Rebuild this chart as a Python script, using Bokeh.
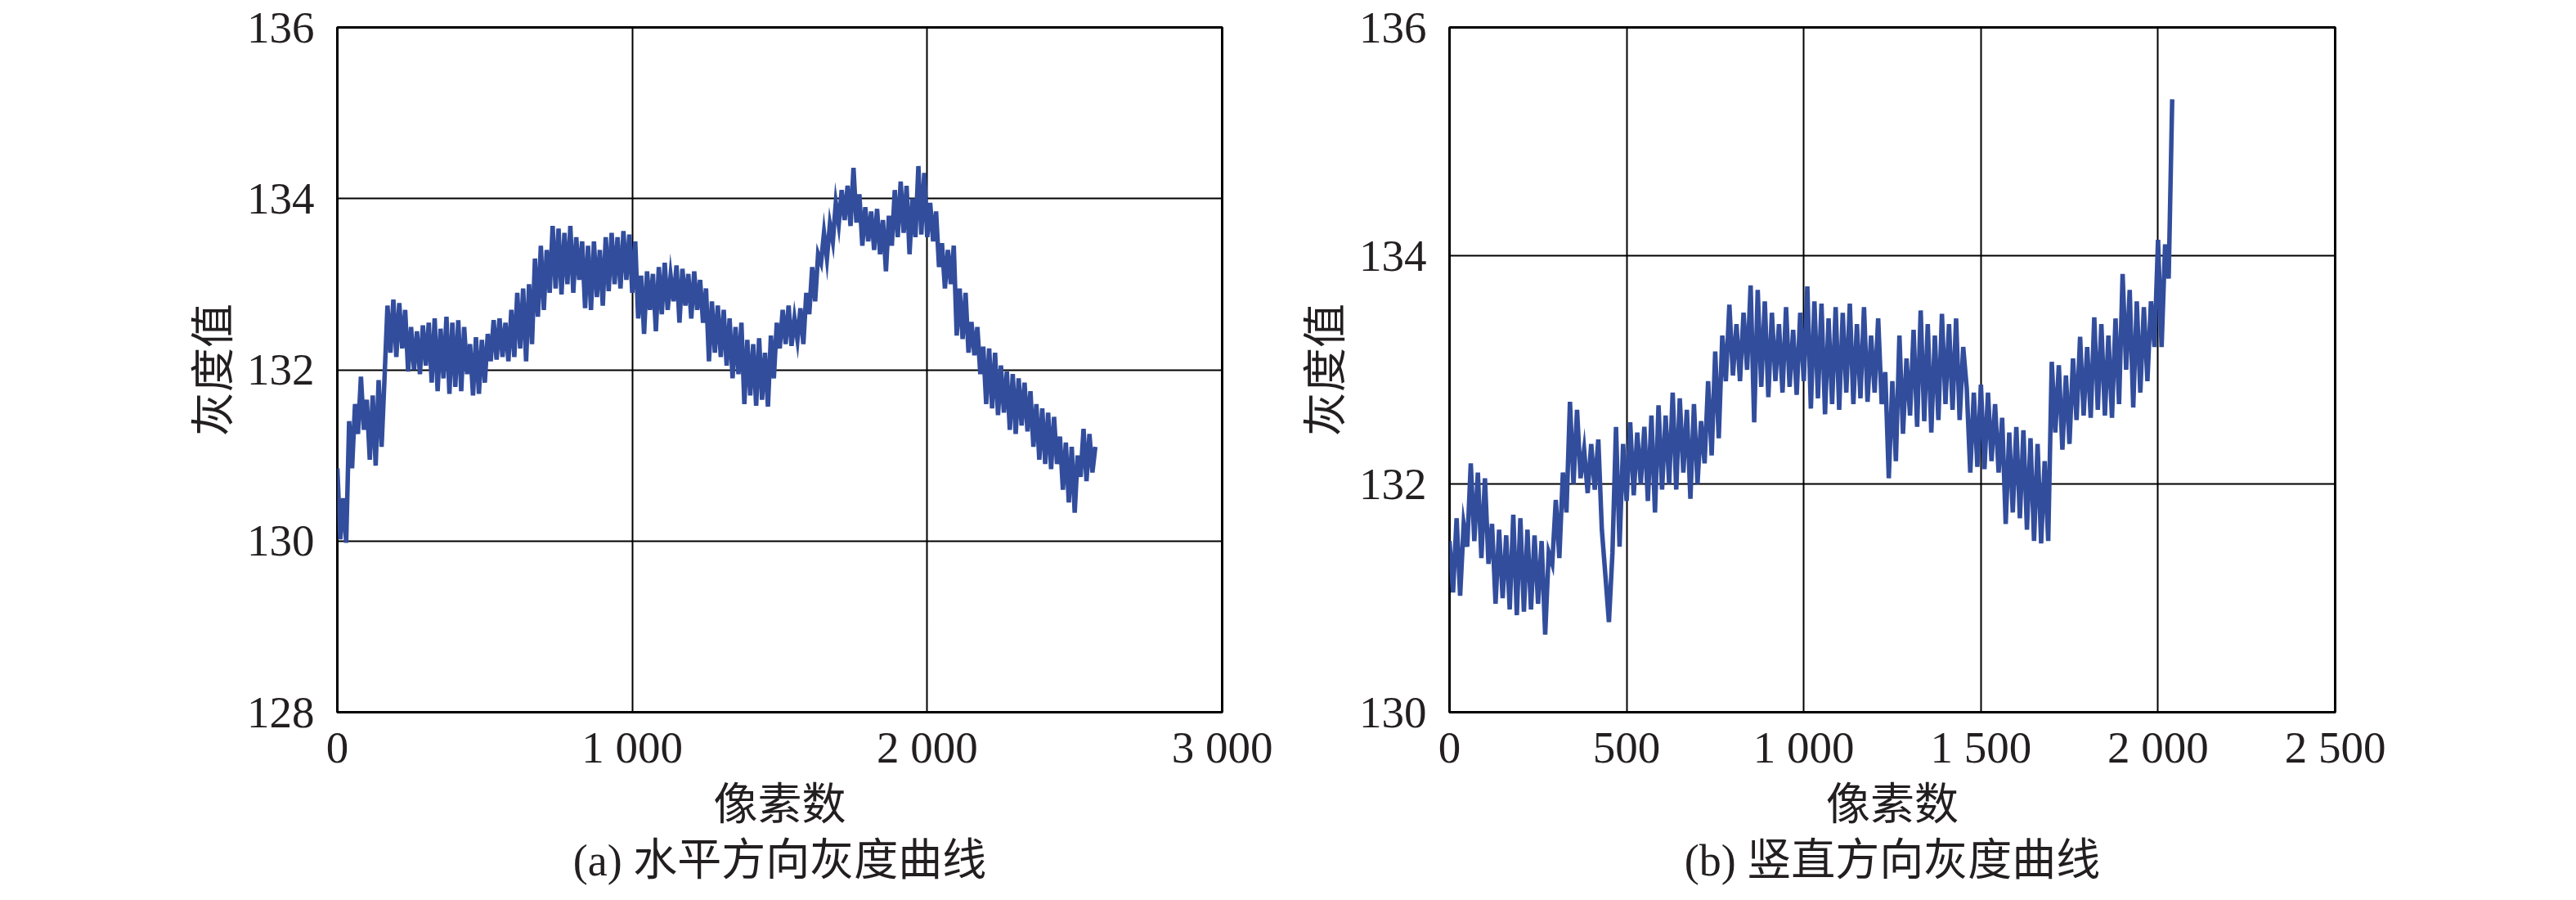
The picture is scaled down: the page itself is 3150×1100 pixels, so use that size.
import numpy as np
from bokeh.plotting import figure
from bokeh.layouts import row
from bokeh.models import Range1d, FixedTicker, Title
from bokeh.embed import file_html
from bokeh.resources import INLINE

# ---------------- data ----------------
h_step = 10  # pixel spacing of the horizontal profile samples
h_gray = [
    130.85, 130.02, 130.5, 129.98, 131.4, 130.85, 131.6, 131.25, 131.92, 131.3,
    131.65, 130.95, 131.7, 130.88, 131.88, 131.1, 131.9, 132.75, 132.2, 132.82,
    132.15, 132.78, 132.25, 132.7, 131.98, 132.5, 132.0, 132.45, 131.95, 132.52,
    132.05, 132.55, 131.85, 132.6, 131.75, 132.48, 131.9, 132.62, 131.72, 132.55,
    131.8, 132.58, 131.75, 132.5, 131.95, 132.3, 131.7, 132.38, 131.72, 132.35,
    131.85, 132.42, 132.1, 132.58, 132.12, 132.6, 132.15, 132.55, 132.1, 132.7,
    132.15, 132.9, 132.25, 132.95, 132.1, 133.0, 132.3, 133.3, 132.62, 133.45,
    132.7, 133.4, 132.9, 133.68, 132.95, 133.65, 132.88, 133.6, 133.0, 133.68,
    132.9, 133.55, 133.05, 133.5, 132.72, 133.45, 132.7, 133.5, 132.85, 133.4,
    132.75, 133.55, 132.92, 133.6, 133.0, 133.55, 132.95, 133.62, 133.05, 133.58,
    132.9, 133.5, 132.6, 133.1, 132.42, 133.15, 132.7, 133.12, 132.45, 133.2,
    132.65, 133.25, 132.7, 133.1, 132.8, 133.22, 132.55, 133.18, 132.75, 133.12,
    132.6, 133.15, 132.7, 133.05, 132.55, 132.95, 132.1, 132.8, 132.2, 132.75,
    132.15, 132.7, 132.05, 132.6, 131.9, 132.5, 131.95, 132.55, 131.6, 132.35,
    131.7, 132.3, 131.58, 132.37, 131.65, 132.2, 131.57, 132.4, 131.9, 132.55,
    132.25, 132.7, 132.3, 132.75, 132.28, 132.6, 132.35, 132.72, 132.3, 132.9,
    132.65, 133.2, 132.8, 133.35, 133.25, 133.6, 133.3, 133.7, 133.5, 133.95,
    133.7, 134.1, 133.75, 134.15, 133.68, 134.36, 133.72, 134.05, 133.45, 133.9,
    133.5, 133.85, 133.4, 133.88, 133.35, 133.75, 133.15, 133.8, 133.45, 134.1,
    133.55, 134.2, 133.6, 134.15, 133.35, 134.0, 133.55, 134.38, 133.58, 134.3,
    133.55, 133.95, 133.5, 133.85, 133.2, 133.48, 132.95, 133.4, 133.0, 133.45,
    132.4, 132.95, 132.36, 132.9, 132.2, 132.56, 132.17, 132.5, 131.95, 132.27,
    131.6, 132.25, 131.55, 132.2, 131.47, 132.05, 131.5, 131.98, 131.3, 131.95,
    131.25, 131.9, 131.35, 131.85, 131.28, 131.75, 131.1, 131.6, 130.95, 131.55,
    130.9, 131.5, 130.84, 131.45, 130.9, 131.22, 130.6, 131.15, 130.45, 131.1,
    130.33, 131.0, 130.75, 131.31, 130.7, 131.25, 130.8, 131.1,
]

v_step = 10  # pixel spacing of the vertical profile samples
v_gray = [
    131.5, 131.05, 131.7, 131.02, 131.65, 131.45, 132.18, 131.5, 132.1, 131.35,
    132.05, 131.3, 131.65, 130.95, 131.6, 131.0, 131.55, 130.9, 131.73, 130.85,
    131.7, 130.88, 131.6, 130.9, 131.55, 130.95, 131.5, 130.68, 131.4, 131.3,
    131.86, 131.35, 132.1, 131.75, 132.72, 132.0, 132.65, 132.05, 132.3, 131.92,
    132.35, 131.95, 132.39, 131.6, 131.2, 130.79, 131.4, 132.5, 131.45, 132.35,
    131.85, 132.54, 131.9, 132.45, 132.0, 132.5, 131.85, 132.6, 131.75, 132.69,
    131.95, 132.6, 132.0, 132.8, 131.95, 132.75, 132.1, 132.65, 131.87, 132.7,
    132.0, 132.55, 132.18, 132.9, 132.25, 133.16, 132.4, 133.3, 132.9, 133.57,
    132.95, 133.4, 132.9, 133.5, 133.0, 133.74, 132.54, 133.7, 132.85, 133.6,
    132.76, 133.5, 132.9, 133.4, 132.8, 133.55, 132.85, 133.35, 132.78, 133.5,
    132.9, 133.73, 132.66, 133.6, 132.75, 133.58, 132.61, 133.45, 132.7, 133.55,
    132.65, 133.5, 132.8, 133.58, 132.7, 133.4, 132.75, 133.55, 132.72, 133.3,
    132.8, 133.45, 132.7, 132.98, 132.05, 132.9, 132.2, 133.3, 132.44, 133.1,
    132.6, 133.35, 132.5, 133.52, 132.55, 133.4, 132.45, 133.3, 132.56, 133.49,
    132.7, 133.4, 132.65, 133.45, 132.56, 133.2, 132.84, 132.1, 132.8, 132.15,
    132.87, 132.13, 132.8, 132.2, 132.7, 132.1, 132.58, 131.65, 132.45, 131.75,
    132.5, 131.7, 132.47, 131.6, 132.4, 131.5, 132.35, 131.48, 132.2, 131.5,
    133.07, 132.45, 133.04, 132.3, 132.95, 132.35, 133.1, 132.56, 133.29, 132.6,
    133.2, 132.58, 133.46, 132.65, 133.4, 132.6, 133.3, 132.58, 133.45, 132.7,
    133.84, 133.0, 133.7, 132.67, 133.6, 132.8, 133.55, 132.9, 133.6, 133.2,
    134.14, 133.2, 134.1, 133.8, 135.37,
]

h_xticks = [0, 1000, 2000, 3000]
h_xlabels = ["0", "1 000", "2 000", "3 000"]
h_yticks = [128, 130, 132, 134, 136]
v_xticks = [0, 500, 1000, 1500, 2000, 2500]
v_xlabels = ["0", "500", "1 000", "1 500", "2 000", "2 500"]
v_yticks = [130, 132, 134, 136]

x_title = "像素数"
y_title = "灰度值"
cap_a = "(a) 水平方向灰度曲线"
cap_b = "(b) 竖直方向灰度曲线"

LINE = "#324D9C"
TXT = "#231F20"
SERIF = "Liberation Serif"
CJK = "Noto Sans CJK SC"
MIXED = "Liberation Serif, Noto Sans CJK SC"


def make(xs, ys, xr, yr, xticks, xlabels, yticks, caption, fw, left, right):
    p = figure(output_backend="svg", toolbar_location=None,
               frame_width=fw, frame_height=837,
               x_range=Range1d(*xr), y_range=Range1d(*yr),
               min_border_left=left, min_border_right=right,
               min_border_top=33, min_border_bottom=214,
               background_fill_color="white", border_fill_color="white")
    p.line(xs, ys, line_color=LINE, line_width=5.5, line_join="miter")
    p.outline_line_color = "black"
    p.outline_line_width = 3
    p.outline_line_alpha = 1
    p.xaxis.ticker = FixedTicker(ticks=xticks)
    p.xaxis.major_label_overrides = {t: l for t, l in zip(xticks, xlabels)}
    p.yaxis.ticker = FixedTicker(ticks=yticks)
    for ax in (p.xaxis[0], p.yaxis[0]):
        ax.axis_line_color = None
        ax.major_tick_line_color = None
        ax.minor_tick_line_color = None
        ax.major_label_text_font = SERIF
        ax.major_label_text_font_size = "55px"
        ax.major_label_text_color = TXT
        ax.axis_label_text_font = CJK
        ax.axis_label_text_font_size = "54px"
        ax.axis_label_text_font_style = "normal"
        ax.axis_label_text_color = TXT
    p.xaxis.axis_label = x_title
    p.yaxis.axis_label = y_title
    p.xaxis.major_label_standoff = 6
    p.yaxis.major_label_standoff = 22
    p.xaxis.axis_label_standoff = -8
    p.yaxis.axis_label_standoff = 3
    p.xgrid.grid_line_color = "black"
    p.ygrid.grid_line_color = "black"
    p.xgrid.grid_line_width = 2
    p.ygrid.grid_line_width = 2
    p.add_layout(Title(text=caption, align="center", text_font=MIXED,
                       text_font_size="54px", text_font_style="normal",
                       text_color=TXT, standoff=-2), "below")
    return p


h_x = np.arange(len(h_gray)) * h_step
v_x = np.arange(len(v_gray)) * v_step

p1 = make(h_x, h_gray, (0, 3000), (128, 136), h_xticks, h_xlabels, h_yticks, cap_a, 1082, 412, 62)
p2 = make(v_x, v_gray, (0, 2500), (130, 136), v_xticks, v_xlabels, v_yticks, cap_b, 1083, 216, 80)

layout = row(p1, p2)
open("out.html", "w").write(file_html(layout, INLINE))
